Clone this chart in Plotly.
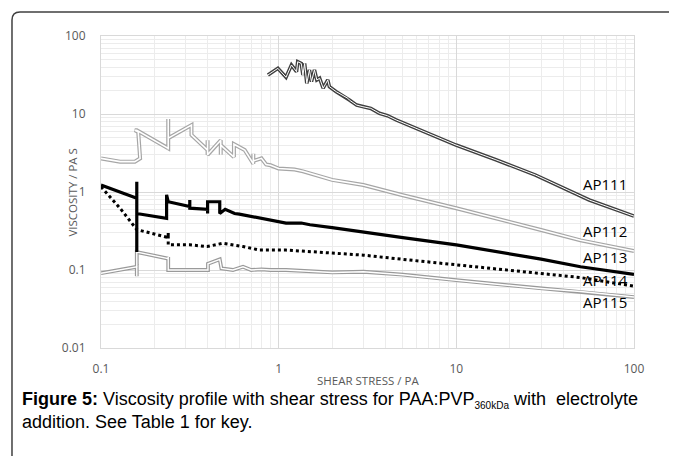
"""
粘度-剪切应力曲线 (Figure 5)
"""

import math
import plotly.graph_objects as go

# ===== 数据 =====
AP111_STRESS = [0.87, 0.99, 1.10, 1.18, 1.26, 1.28, 1.34, 1.37, 1.40, 1.44, 1.49, 1.53, 1.59, 1.64,
                1.70, 1.78, 1.89, 1.93, 2.11, 2.19, 2.45, 2.5, 2.75, 2.98, 3.3, 3.69, 4.1, 4.58, 5.92,
                7.5, 9.96, 16.7, 27.9, 56, 100]
AP111_VISC = [31.6, 38.5, 29.6, 42.5, 34.9, 46.8, 44.5, 31.6, 44.5, 24.7, 36.7, 26.0, 36.7, 27.3,
              28.7, 21.4, 27.3, 22.4, 19.3, 18.4, 15.9, 15.1, 13.0, 12.4, 11.8, 10.2, 9.5, 8.4, 6.6,
              5.2, 4.0, 2.59, 1.65, 0.79, 0.49]

AP112_STRESS = [0.1, 0.128, 0.155, 0.166, 0.162, 0.155, 0.159, 0.239, 0.239, 0.239, 0.239, 0.323,
                0.323, 0.398, 0.398, 0.398, 0.472, 0.472, 0.472, 0.56, 0.56, 0.56, 0.644, 0.72,
                0.72, 0.72, 0.80, 0.85, 0.9, 1.0, 1.23, 1.37, 2.0, 3.0, 5.0, 10, 30, 50, 100]
AP112_VISC = [2.7, 2.45, 2.45, 2.7, 5.9, 6.2, 6.2, 3.63, 8.6, 3.5, 4.9, 7.2,
              5.4, 3.45, 4.6, 3.0, 4.6, 3.0, 4.0, 2.8, 3.05, 4.1, 3.45, 2.3,
              3.1, 2.5, 2.7, 2.25, 2.2, 2.0, 1.94, 1.84, 1.43, 1.23, 0.91, 0.62, 0.326, 0.24, 0.175]

AP113_STRESS = [0.1, 0.159, 0.159, 0.159, 0.159, 0.234, 0.234, 0.239, 0.297, 0.316, 0.316, 0.316,
                0.398, 0.398, 0.398, 0.398, 0.466, 0.466, 0.5, 0.53, 0.565, 0.6, 0.69, 0.75, 0.89,
                1.0, 1.1, 1.34, 1.5, 2.0, 3.0, 5.0, 10, 30, 50, 100]
AP113_VISC = [1.23, 0.83, 1.35, 0.17, 0.53, 0.46, 0.92, 0.75, 0.68, 0.65, 0.79, 0.62,
              0.6, 0.78, 0.53, 0.75, 0.75, 0.53, 0.6, 0.56, 0.53, 0.52, 0.49, 0.47, 0.44,
              0.42, 0.40, 0.40, 0.38, 0.35, 0.31, 0.26, 0.21, 0.138, 0.11, 0.088]

AP114_STRESS = [0.1, 0.128, 0.159, 0.239, 0.239, 0.239, 0.316, 0.395, 0.485, 0.63, 0.78, 1.1,
                2.0, 3.0, 5.0, 10, 30, 50, 100]
AP114_VISC = [1.17, 0.62, 0.33, 0.26, 0.30, 0.21, 0.21, 0.20, 0.22, 0.20, 0.18, 0.18,
              0.165, 0.155, 0.137, 0.116, 0.091, 0.08, 0.062]

AP115_STRESS = [0.1, 0.159, 0.159, 0.159, 0.159, 0.239, 0.239, 0.239, 0.316, 0.40, 0.40, 0.466,
                0.476, 0.553, 0.63, 0.70, 0.80, 0.9, 1.1, 2.0, 3.0, 5.0, 10, 30, 50, 100]
AP115_VISC = [0.091, 0.11, 0.083, 0.16, 0.17, 0.14, 0.147, 0.10, 0.10, 0.10, 0.12, 0.137,
              0.105, 0.10, 0.11, 0.10, 0.102, 0.10, 0.10, 0.093, 0.095, 0.087, 0.074, 0.058, 0.053, 0.045]

LABELS = ["AP111", "AP112", "AP113", "AP114", "AP115"]
LABEL_VISC = [1.27, 0.316, 0.147, 0.0745, 0.039]
LABEL_STRESS = 68.8

X_TICKS = [0.1, 1, 10, 100]
Y_TICKS = [0.01, 0.1, 1, 10, 100]

TICK_GRAY = "#595959"
FONT = "Open Sans, Liberation Sans, sans-serif"


def double_line(fig, x, y, outer, w_out, w_in):
    """Excel 风格的双线"""
    fig.add_trace(go.Scatter(x=x, y=y, mode="lines", line=dict(color=outer, width=w_out),
                             showlegend=False, hoverinfo="skip"))
    fig.add_trace(go.Scatter(x=x, y=y, mode="lines", line=dict(color="white", width=w_in),
                             showlegend=False, hoverinfo="skip"))


fig = go.Figure()

double_line(fig, AP111_STRESS, AP111_VISC, "#3f3f3f", 3.6, 1.0)
double_line(fig, AP112_STRESS, AP112_VISC, "#a6a6a6", 4.0, 1.6)
double_line(fig, AP115_STRESS, AP115_VISC, "#9a9a9a", 3.8, 1.4)

fig.add_trace(go.Scatter(x=AP114_STRESS, y=AP114_VISC, mode="lines",
                         line=dict(color="black", width=3, dash="dot"), showlegend=False))
fig.add_trace(go.Scatter(x=AP113_STRESS, y=AP113_VISC, mode="lines",
                         line=dict(color="black", width=3.2), showlegend=False))

for name, v in zip(LABELS, LABEL_VISC):
    fig.add_annotation(x=math.log10(LABEL_STRESS), y=math.log10(v), text=name, showarrow=False,
                       xanchor="center", yanchor="middle",
                       font=dict(family=FONT, size=15, color="black"))

# 坐标轴标题
fig.add_annotation(xref="paper", yref="paper", x=-0.073, y=0.5, textangle=-90,
                   text="VISCOSITY / PA S", showarrow=False,
                   font=dict(family=FONT, size=11.5, color=TICK_GRAY))
fig.add_annotation(xref="paper", yref="paper", x=0.5, y=-0.1026, yanchor="middle",
                   text="SHEAR STRESS / PA", showarrow=False,
                   font=dict(family=FONT, size=11.5, color=TICK_GRAY))

# 图注
fig.add_annotation(
    xref="paper", yref="paper", x=-0.152, y=-0.2, xanchor="left", yanchor="middle",
    align="left", showarrow=False,
    text="<b>Figure 5:</b> Viscosity profile with shear stress for PAA:PVP"
         "<sub><span style='font-size:10px'>360kDa</span></sub> with  electrolyte"
         "<br>addition. See Table 1 for key.",
    font=dict(family="Liberation Sans Narrow, Liberation Sans, Arial, sans-serif", size=18, color="black"),
)

# 边框（左上圆角）
fig.add_shape(type="path", xref="paper", yref="paper",
              path="M -0.167,-0.5 L -0.167,1.051 Q -0.167,1.077 -0.152,1.077 L 1.3,1.077",
              line=dict(color="#404040", width=1.5))

axis_common = dict(
    type="log", showgrid=True, gridcolor="#d9d9d9", gridwidth=1,
    showline=True, linecolor="#d9d9d9", mirror=True, zeroline=False,
    ticks="outside", tickcolor="rgba(0,0,0,0)",
    tickfont=dict(family=FONT, size=12, color=TICK_GRAY),
    minor=dict(dtick="D1", showgrid=True, gridcolor="#ececec", gridwidth=1, ticks=""),
)

fig.update_xaxes(**axis_common, range=[-1, 2], tickvals=X_TICKS, ticklen=10,
                 ticktext=["0.1", "1", "10", "100"])
fig.update_yaxes(**axis_common, range=[-2, 2], tickvals=Y_TICKS, ticklen=12,
                 ticktext=["0.01", "0.1", "1", "10", "100"])

# 页面 body 默认有 8px 边距，这里整体左上移
fig.update_layout(
    width=677, height=456,
    margin=dict(l=93, r=51, t=28, b=116),
    plot_bgcolor="white", paper_bgcolor="white",
    showlegend=False,
)

fig.write_html("out.html")
